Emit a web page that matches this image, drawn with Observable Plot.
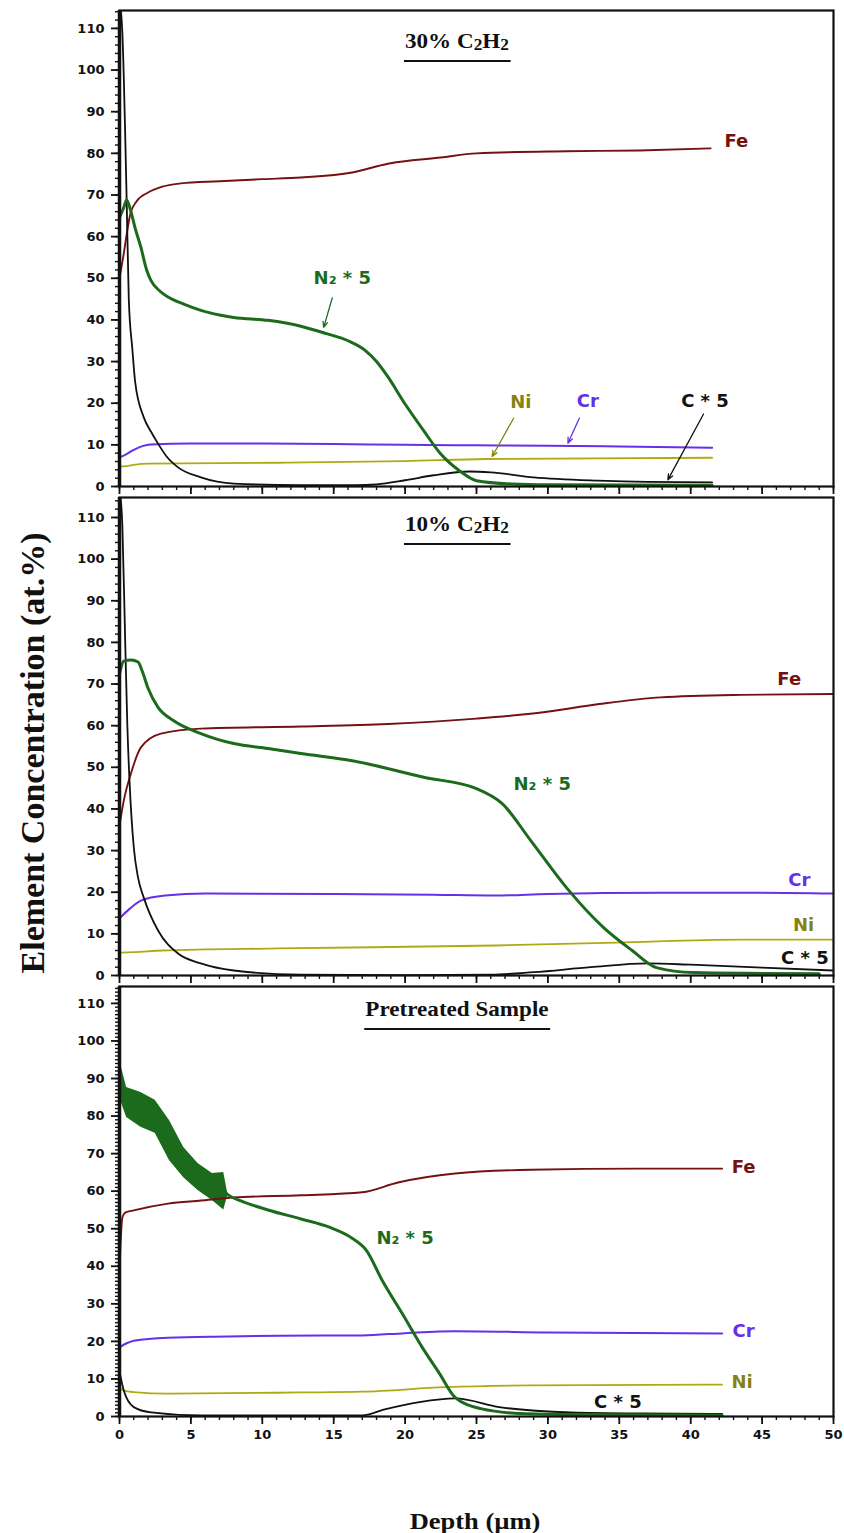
<!DOCTYPE html>
<html><head><meta charset="utf-8">
<script src="https://cdn.jsdelivr.net/npm/d3@7"></script>
<script src="https://cdn.jsdelivr.net/npm/@observablehq/plot@0.6"></script>
<style>
html,body{margin:0;padding:0;background:#fff;}
#wrap{position:relative;width:844px;height:1533px;overflow:hidden;background:#fff;}
.panel{position:absolute;left:0;}
.ptitle{position:absolute;transform:translateX(-50%) scaleX(1.1);font-family:"Liberation Serif","Times New Roman",serif;font-weight:bold;font-size:21px;line-height:1;border-bottom:2.5px solid #111;padding:0 1px 8px 1px;white-space:nowrap;color:#111;}
.ptitle sub{font-size:0.75em;vertical-align:-0.12em;line-height:0;}
#ytitle{position:absolute;left:33px;top:753px;transform:translate(-50%,-50%) rotate(-90deg);font-family:"Liberation Serif","Times New Roman",serif;font-weight:bold;font-size:34px;white-space:nowrap;color:#111;line-height:1;}
#xtitle{position:absolute;left:475px;top:1510px;transform:translateX(-50%) scaleX(1.15);font-family:"Liberation Serif","Times New Roman",serif;font-weight:bold;font-size:23px;white-space:nowrap;color:#111;line-height:1;}
</style></head>
<body><div id="wrap"></div>
<script>
// ---------- axis ticks ----------
const X_TICKS = [0, 5, 10, 15, 20, 25, 30, 35, 40, 45, 50];
const Y_TICKS = [0, 10, 20, 30, 40, 50, 60, 70, 80, 90, 100, 110];
const PANEL_TITLES = ["30% C<sub>2</sub>H<sub>2</sub>", "10% C<sub>2</sub>H<sub>2</sub>", "Pretreated Sample"];
const X_TITLE = "Depth (µm)";
const Y_TITLE = "Element Concentration (at.%)";

// ---------- Panel 1 : 30% C2H2  ([depth µm, at.%]) ----------
const fe30 = [[0,50],[0.3,56],[0.5,60.5],[0.77,65.6],[1.2,68.5],[2,70.6],[3,72],[4.3,72.8],[7,73.3],[10,73.8],[12.7,74.2],[16.3,75.4],[18.8,77.5],[22.5,79],[25,80],[31.3,80.5],[36.4,80.7],[41.4,81.2]];
const n30 = [[0,64.6],[0.3,67],[0.5,68.8],[0.8,66],[1.1,62],[1.5,57.4],[1.9,52],[2.2,49.5],[2.8,47],[3.4,45.5],[4.5,43.8],[5.7,42.3],[7,41.2],[8,40.6],[10.4,39.9],[12.7,38.5],[14.5,36.7],[16,35],[17.2,32.7],[18,30],[18.8,26.3],[20,19.8],[21.3,13.4],[22.5,7.8],[23.8,3.8],[25,1.4],[27.5,0.6],[30,0.4],[41.5,0.3]];
const c30 = [[0,117],[0.2,109],[0.5,69],[0.65,45],[0.9,33],[1.1,25],[1.7,16.6],[2.2,13.2],[2.7,10.3],[3.3,7.2],[4.1,4.6],[5.7,2.2],[8,0.7],[12.7,0.3],[16.5,0.3],[18,0.5],[20,1.5],[22,2.7],[24.5,3.6],[26,3.4],[29,2.2],[33.5,1.4],[37,1.1],[41.5,1.0]];
const cr30 = [[0,7],[0.5,7.8],[1,8.8],[1.6,9.7],[2.2,10.1],[5,10.3],[10,10.3],[15,10.2],[20,10],[25,9.9],[30,9.8],[35,9.6],[41.5,9.3]];
const ni30 = [[0,4.8],[0.5,4.9],[1,5.2],[2,5.5],[11.2,5.7],[20,6.1],[25.7,6.6],[41.5,6.9]];

// ---------- Panel 2 : 10% C2H2 ----------
const fe10 = [[0,36],[0.3,42],[0.8,48.5],[1.5,54.8],[2.9,58.1],[5.7,59.3],[12.7,59.8],[18.8,60.4],[25,61.7],[29.4,63.1],[33.6,65.2],[37.9,66.8],[43.5,67.4],[50,67.6]];
const n10 = [[0,72.5],[0.3,75.5],[0.8,75.8],[1.3,75.3],[1.6,73],[2.0,69],[2.7,64.4],[3.8,61.2],[5.7,58.1],[8,55.7],[10.4,54.5],[12.7,53.3],[16.3,51.6],[21.3,47.6],[25,44.9],[26.8,41.3],[28.8,32.4],[31.3,21.1],[33.9,11.5],[35.9,6],[37.6,1.9],[40.2,0.7],[45,0.5],[49,0.4]];
const c10 = [[0,117],[0.2,108],[0.4,80],[0.55,60],[0.7,46.8],[1.0,30.8],[1.3,23.5],[1.7,18.7],[2.7,10.8],[4.1,5.3],[5.7,2.9],[8,1.2],[12.7,0.2],[20,0.1],[26,0.2],[29,0.8],[33,2.0],[37,2.9],[40,2.6],[45,1.9],[50,1.2]];
const cr10 = [[0,13.7],[0.7,16],[1.5,18],[3.2,19.2],[6,19.7],[15,19.6],[22,19.4],[26.3,19.2],[30,19.6],[37.9,19.9],[44,19.9],[50,19.7]];
const ni10 = [[0,5.5],[1,5.6],[3,6.0],[11.2,6.5],[26.3,7.2],[34.8,7.9],[43.5,8.6],[50,8.6]];

// ---------- Panel 3 : Pretreated sample ----------
const fePre = [[0,38],[0.1,48],[0.2,53],[0.4,54.3],[1,54.9],[3.4,56.7],[5.7,57.5],[8,58.3],[12.7,58.9],[17,59.7],[19.5,62.3],[23.5,64.7],[28.8,65.7],[36.4,66],[42.2,66]];
const nPre = [[0,90],[0.5,83.6],[1.5,81.6],[2.5,79.8],[3.5,73.5],[4.5,67.6],[5.5,63.8],[6.5,61.1],[7.3,60],[7.6,59],[8.5,57.4],[10.4,55],[12.7,52.6],[14.7,50.4],[16.2,47.7],[17.3,44.2],[18.4,36.2],[19.8,27.4],[21.2,18.4],[22.4,11.5],[23.5,5.1],[25.3,2.1],[28.1,0.8],[32,0.5],[42.2,0.3]];
const nPreBandDepth = [0, 0.5, 1.5, 2.5, 3.5, 4.5, 5.5, 6.5, 7.3, 7.6];
const nPreBandHigh  = [95, 87.6, 86.3, 84.2, 78.8, 71.6, 67.4, 64.7, 65, 59];
const nPreBandLow   = [85, 79.6, 77, 75.4, 68.2, 63.6, 60.2, 57.5, 55, 59];
const cPre = [[0,12],[0.3,6.9],[1,2.5],[2.2,1.1],[5.7,0.3],[17,0.3],[18.5,1.8],[21,3.8],[23.5,4.8],[26.6,2.5],[31.6,1.1],[36.4,0.8],[42.2,0.7]];
const crPre = [[0,18.4],[0.5,19.5],[1,20.2],[3.4,21],[7.5,21.3],[11.2,21.5],[17,21.6],[20,22.2],[23.5,22.7],[30,22.4],[42.2,22.1]];
const niPre = [[0,7.5],[0.3,6.9],[1,6.5],[3.4,6.1],[12.7,6.4],[17,6.6],[22.8,7.8],[28.8,8.3],[42.2,8.5]];

// ---------- label positions (data coords) ----------
const labels30 = [
  {x: 43.2, y: 83, t: "Fe", c: "fe"},
  {x: 15.6, y: 50, t: "N₂ * 5", c: "n"},
  {x: 28.1, y: 20.3, t: "Ni", c: "niL"},
  {x: 32.8, y: 20.5, t: "Cr", c: "cr"},
  {x: 41.0, y: 20.5, t: "C * 5", c: "c"}
];
const arrows30 = [
  {x1: 14.9, y1: 45.3, x2: 14.3, y2: 38.2, c: "n"},
  {x1: 27.6, y1: 16.4, x2: 26.1, y2: 7.2, c: "niL"},
  {x1: 32.2, y1: 16.4, x2: 31.4, y2: 10.4, c: "cr"},
  {x1: 40.9, y1: 17.4, x2: 38.4, y2: 1.6, c: "c"}
];
const labels10 = [
  {x: 46.9, y: 71.1, t: "Fe", c: "fe"},
  {x: 29.6, y: 46.0, t: "N₂ * 5", c: "n"},
  {x: 47.6, y: 22.8, t: "Cr", c: "cr"},
  {x: 47.9, y: 12.0, t: "Ni", c: "niL"},
  {x: 48.0, y: 4.2, t: "C * 5", c: "c"}
];
const labelsPre = [
  {x: 43.7, y: 66.4, t: "Fe", c: "fe"},
  {x: 20.0, y: 47.5, t: "N₂ * 5", c: "n"},
  {x: 43.7, y: 22.6, t: "Cr", c: "cr"},
  {x: 43.6, y: 9.0, t: "Ni", c: "niL"},
  {x: 34.9, y: 3.8, t: "C * 5", c: "c"}
];

// ---------- styling ----------
const COL = {fe: "#741111", n: "#1c6a1c", c: "#111111", cr: "#6530e6", ni: "#b0aa12", niL: "#858212"};
const W = {fe: 1.9, n: 3.0, c: 1.8, cr: 2.0, ni: 1.8};
const TICKFONT = "'DejaVu Sans', Verdana, sans-serif";
const LABFONT = "'DejaVu Sans', Verdana, sans-serif";

const wrap = document.getElementById("wrap");

function makePanel(o) {
  const series = [["ni", o.ni], ["cr", o.cr], ["fe", o.fe], ["c", o.c], ["n", o.n]];
  const marks = [];
  if (o.band) {
    const bd = o.band.d.map((d, i) => ({d, lo: o.band.lo[i], hi: o.band.hi[i]}));
    marks.push(Plot.areaY(bd, {x: "d", y1: "lo", y2: "hi", fill: COL.n, curve: "linear"}));
  }
  for (const [k, data] of series) {
    marks.push(Plot.line(data, {x: d => d[0], y: d => d[1], stroke: COL[k], strokeWidth: W[k], curve: "monotone-x", clip: true}));
  }
  if (o.arrows) {
    marks.push(Plot.arrow(o.arrows, {x1: "x1", y1: "y1", x2: "x2", y2: "y2", stroke: d => COL[d.c], strokeWidth: 1.3, headLength: 7, headAngle: 45}));
  }
  marks.push(Plot.text(o.labels, {x: "x", y: "y", text: "t", fill: d => COL[d.c], fontSize: 18, fontWeight: "bold", fontFamily: LABFONT}));
  // axes
  marks.push(Plot.axisY({ticks: o.minorY, tickSize: 4, tickFormat: () => "", label: null, strokeWidth: 1.4}));
  marks.push(Plot.axisY({ticks: Y_TICKS, tickSize: 8, tickPadding: 7, tickFormat: d => d, label: null, strokeWidth: 1.8, fontSize: 13, fontWeight: "bold", fontFamily: TICKFONT}));
  marks.push(Plot.axisX({ticks: d3.range(0, 51, 1), tickSize: 4, tickFormat: () => "", label: null, strokeWidth: 1.4}));
  marks.push(Plot.axisX({ticks: X_TICKS, tickSize: 8, tickPadding: 5, tickFormat: o.xLabels ? (d => d) : (() => ""), label: null, strokeWidth: 1.8, fontSize: 13, fontWeight: "bold", fontFamily: TICKFONT}));
  marks.push(Plot.frame({stroke: "#111", strokeWidth: 2.2}));
  marks.push(Plot.ruleX([0], {stroke: "#111", strokeWidth: 3.5}));

  const svg = Plot.plot({
    width: 844,
    height: o.marginTop + o.inner + o.marginBottom,
    marginLeft: 119, marginRight: 11,
    marginTop: o.marginTop, marginBottom: o.marginBottom,
    x: {domain: [0, 50]},
    y: {domain: [0, o.ymax]},
    style: {fontFamily: TICKFONT, fontSize: "13px", fontWeight: "bold", color: "#111", background: "transparent", overflow: "visible"},
    marks
  });
  const div = document.createElement("div");
  div.className = "panel";
  div.style.top = o.top + "px";
  div.appendChild(svg);
  wrap.appendChild(div);
}

makePanel({top: 0, marginTop: 10, inner: 476, marginBottom: 11, ymax: 114.3,
  fe: fe30, n: n30, c: c30, cr: cr30, ni: ni30, labels: labels30, arrows: arrows30, minorY: d3.range(0, 115, 2), xLabels: false});
makePanel({top: 490, marginTop: 7, inner: 478, marginBottom: 11, ymax: 114.8,
  fe: fe10, n: n10, c: c10, cr: cr10, ni: ni10, labels: labels10, minorY: d3.range(0, 115, 2), xLabels: false});
makePanel({top: 979, marginTop: 7, inner: 430, marginBottom: 30, ymax: 114.5,
  fe: fePre, n: nPre, c: cPre, cr: crPre, ni: niPre, labels: labelsPre, minorY: d3.range(0, 115, 1), xLabels: true,
  band: {d: nPreBandDepth, lo: nPreBandLow, hi: nPreBandHigh}});

// titles
const titleTops = [31, 514, 999];
PANEL_TITLES.forEach((t, i) => {
  const d = document.createElement("div");
  d.className = "ptitle";
  d.style.left = "457px";
  d.style.top = titleTops[i] + "px";
  d.innerHTML = t;
  wrap.appendChild(d);
});
const yt = document.createElement("div"); yt.id = "ytitle"; yt.textContent = Y_TITLE; wrap.appendChild(yt);
const xt = document.createElement("div"); xt.id = "xtitle"; xt.textContent = X_TITLE; wrap.appendChild(xt);
</script>
</body></html>
